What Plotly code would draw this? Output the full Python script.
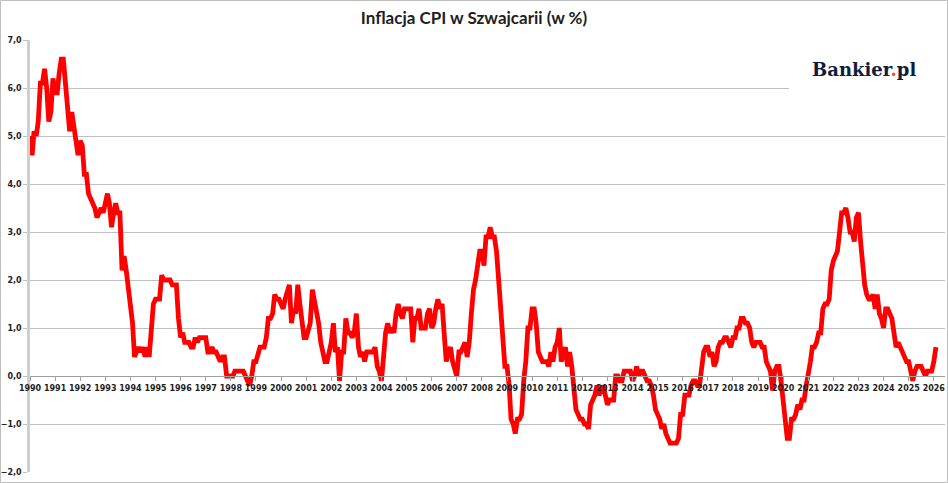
import pandas as pd
import plotly.graph_objects as go

# Swiss CPI, y/y change in %, monthly from Jan 1990
cpi_1990s = [
    5.0, 4.6, 5.1, 5.0, 5.3, 6.1, 6.1, 6.4, 6.0, 5.3, 5.5, 6.2,
    5.9, 5.9, 6.3, 6.6, 6.6, 6.0, 5.6, 5.1, 5.5, 5.2, 5.0, 4.6,
    4.9, 4.8, 4.2, 4.2, 3.8, 3.7, 3.6, 3.5, 3.3, 3.4, 3.5, 3.4,
    3.6, 3.8, 3.6, 3.1, 3.4, 3.6, 3.4, 3.4, 2.2, 2.5, 2.2, 1.8,
    1.5, 1.1, 0.4, 0.5, 0.6, 0.5, 0.6, 0.4, 0.6, 0.4, 1.0, 1.5,
    1.6, 1.6, 1.6, 2.1, 2.0, 2.0, 2.0, 2.0, 1.9, 1.9, 1.9, 1.2,
    0.8, 0.9, 0.7, 0.7, 0.7, 0.6, 0.6, 0.8, 0.7, 0.8, 0.8, 0.8,
    0.8, 0.5, 0.5, 0.6, 0.5, 0.5, 0.4, 0.3, 0.4, 0.4, 0.0, 0.0,
    0.0, 0.0, 0.1, 0.1, 0.1, 0.1, 0.1, 0.0, -0.1, -0.2, 0.0, 0.3,
    0.3, 0.5, 0.6, 0.6, 0.6, 0.8, 1.2, 1.2, 1.3, 1.7, 1.6, 1.6,
]
cpi_2000s = [
    1.5, 1.4, 1.6, 1.8, 1.9, 1.1, 1.4, 1.3, 1.9, 1.5, 1.2, 0.8,
    0.8, 1.0, 1.1, 1.8, 1.6, 1.3, 1.1, 0.7, 0.5, 0.3, 0.3, 0.5,
    0.7, 1.1, 0.5, 0.6, -0.1, 0.5, 0.5, 1.2, 0.9, 0.9, 0.8, 0.9,
    1.3, 0.6, 0.4, 0.5, 0.3, 0.5, 0.5, 0.5, 0.5, 0.6, 0.2, 0.1,
    -0.1, 0.4, 0.9, 1.1, 0.9, 1.0, 0.9, 1.3, 1.5, 1.3, 1.2, 1.4,
    1.4, 1.4, 1.4, 0.7, 1.2, 1.2, 1.4, 1.0, 1.0, 1.0, 1.3, 1.4,
    1.0, 1.1, 1.4, 1.6, 1.4, 1.5, 0.9, 0.3, 0.5, 0.6, 0.3, 0.1,
    0.0, 0.5, 0.5, 0.6, 0.7, 0.4, 0.7, 1.3, 1.8, 2.0, 2.4, 2.6,
    2.6, 2.3, 2.9, 2.9, 3.1, 2.9, 2.9, 2.6, 2.0, 1.3, 0.6, 0.2,
    0.2, -0.2, -0.9, -1.0, -1.2, -0.9, -0.9, -0.8, -0.1, 0.3, 1.0, 1.0,
]
cpi_2010s = [
    1.4, 1.4, 1.1, 0.5, 0.4, 0.3, 0.3, 0.3, 0.2, 0.5, 0.3, 0.6,
    0.7, 1.0, 0.3, 0.5, 0.6, 0.2, 0.5, 0.2, -0.4, -0.7, -0.8, -0.9,
    -0.9, -1.0, -1.0, -1.1, -0.6, -0.5, -0.4, -0.2, -0.4, -0.3, -0.2, -0.4,
    -0.6, -0.5, -0.5, -0.5, 0.0, 0.0, -0.1, -0.1, 0.1, 0.1, 0.1, 0.1,
    -0.1, 0.0, 0.2, 0.0, 0.1, 0.1, 0.0, -0.1, -0.1, -0.2, -0.4, -0.7,
    -0.8, -0.9, -1.1, -1.0, -1.2, -1.3, -1.4, -1.4, -1.4, -1.4, -1.3, -0.8,
    -0.8, -0.4, -0.4, -0.4, -0.2, -0.1, -0.1, -0.2, -0.2, 0.2, 0.5, 0.6,
    0.6, 0.4, 0.5, 0.2, 0.3, 0.6, 0.7, 0.7, 0.8, 0.8, 0.7, 0.6,
    0.8, 0.8, 1.0, 1.0, 1.2, 1.2, 1.1, 1.1, 1.0, 0.7, 0.6, 0.7,
    0.7, 0.7, 0.6, 0.6, 0.3, 0.2, 0.1, -0.3, 0.1, 0.2, 0.2, -0.1,
]
cpi_2020s = [
    -0.5, -1.1, -1.3, -1.3, -0.9, -0.9, -0.8, -0.6, -0.7, -0.5, -0.5, -0.2,
    0.0, 0.3, 0.6, 0.6, 0.7, 0.9, 0.9, 1.4, 1.5, 1.5, 1.6, 2.2,
    2.4, 2.5, 2.6, 3.0, 3.4, 3.4, 3.5, 3.3, 3.0, 3.0, 2.8, 3.3,
    3.4, 2.8, 2.3, 1.9, 1.7, 1.6, 1.6, 1.7, 1.4, 1.7, 1.3, 1.2,
    1.0, 1.4, 1.4, 1.3, 1.2, 0.9, 0.6, 0.7, 0.6, 0.5, 0.4, 0.3,
    0.3, 0.0, -0.1, 0.1, 0.2, 0.2, 0.2, 0.1, 0.0, 0.1, 0.1, 0.1,
    0.3, 0.6,
]

cpi = cpi_1990s + cpi_2000s + cpi_2010s + cpi_2020s
dates = pd.date_range("1990-01-01", periods=len(cpi), freq="MS")

y_min, y_max = -2, 7
x_range = ["1990-01-01", "2026-06-13"]

W, H = 948, 483
M_L, M_R, M_T, M_B = 30, 3, 40, 11
plot_w = W - M_L - M_R
plot_h = H - M_T - M_B


def px_x(x):
    """pixel x -> paper fraction"""
    return (x - M_L) / plot_w


def px_y(y):
    """pixel y -> paper fraction"""
    return (H - M_B - y) / plot_h


grid_col = "#c0c0c0"
tick_font = dict(family="DejaVu Sans", size=8, color="#1e1e1e", weight="bold")

fig = go.Figure()
fig.add_trace(go.Scatter(
    x=dates, y=cpi, mode="lines",
    line=dict(color="#ff0000", width=4.8),
    hoverinfo="skip", showlegend=False,
))

fig.update_layout(
    width=W, height=H,
    margin=dict(l=M_L, r=M_R, t=M_T, b=M_B, autoexpand=False),
    paper_bgcolor="white", plot_bgcolor="white",
    separators=", ",
    title=dict(
        text="<b>Inflacja CPI w Szwajcarii (w %)</b>",
        x=474 / W, xref="container", xanchor="center",
        y=1 - 18 / H, yref="container", yanchor="middle",
        font=dict(family="Lato", size=17, color="#1e1e1e"),
    ),
    xaxis=dict(
        type="date", range=x_range,
        tick0="1990-01-01", dtick="M12", tickformat="%Y", tickangle=0,
        showgrid=False, zeroline=False, automargin=False,
        showline=True, linecolor="#a0a0a0", linewidth=1,
        ticks="outside", ticklen=4, tickcolor="#a0a0a0",
        tickfont=tick_font,
        anchor="free", position=(0 - y_min) / (y_max - y_min),
    ),
    yaxis=dict(
        range=[y_min, y_max], dtick=1, tickformat=".1f",
        showgrid=True, gridcolor=grid_col, gridwidth=1,
        zeroline=False, automargin=False,
        showline=True, linecolor="#cfcfcf", linewidth=2.5,
        ticks="outside", ticklen=4, tickcolor="#bdbdbd",
        tickfont=tick_font,
    ),
)

# white box behind the logo, hiding the top grid lines
fig.add_shape(type="rect", xref="paper", yref="paper",
              x0=px_x(789), x1=1.0, y0=px_y(100), y1=px_y(28),
              fillcolor="white", line=dict(width=0), layer="above")
fig.add_annotation(
    xref="paper", yref="paper",
    x=px_x(864), y=px_y(69),
    text="<b>Bankier<span style='color:#e8561e'>.</span>pl</b>",
    showarrow=False, xanchor="center", yanchor="middle",
    font=dict(family="DejaVu Serif", size=18, color="#101c3a"),
)

# thin frame around the whole picture
fig.add_shape(type="rect", xref="paper", yref="paper",
              x0=px_x(0.5), x1=px_x(947.5), y0=px_y(482.5), y1=px_y(0.5),
              line=dict(color="#bfbfbf", width=1), layer="above")

# drop the default body margin so the figure sits at the page corner
fig.write_html("out.html", config={"displayModeBar": False},
               post_script="document.body.style.margin='0';")
